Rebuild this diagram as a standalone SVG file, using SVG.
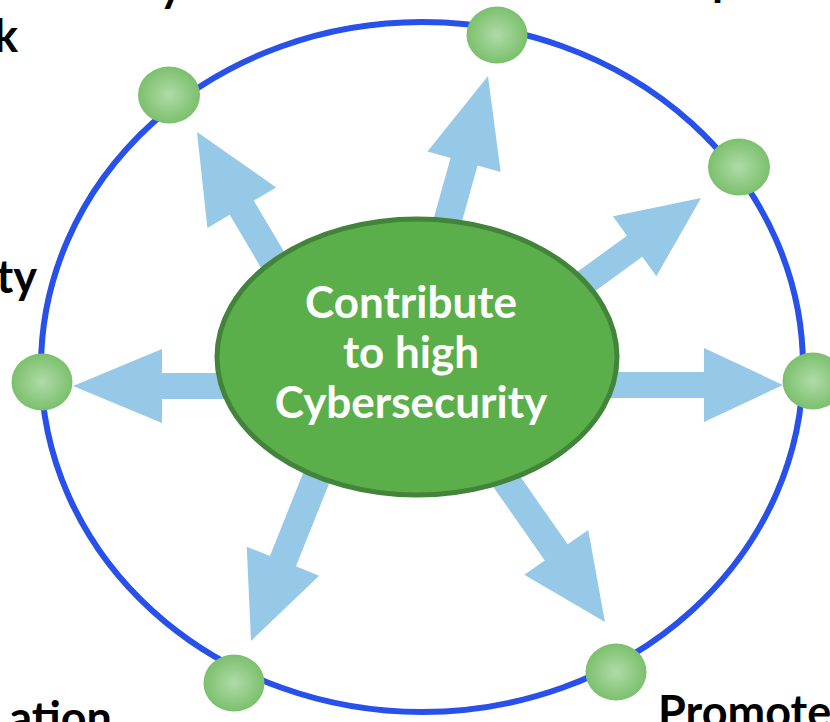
<svg xmlns="http://www.w3.org/2000/svg" width="830" height="722" viewBox="0 0 830 722">
<defs>
<radialGradient id="nodeGrad" cx="50%" cy="50%" r="50%">
<stop offset="0" stop-color="#B0DBA8"/>
<stop offset="1" stop-color="#7BC06D"/>
</radialGradient>
<style>
.ring{fill:none;stroke:#2850EA;stroke-width:6}
.arrow{fill:#96C9E8}
.node{fill:url(#nodeGrad)}
.center{fill:#5BAF4B;stroke:#42843A;stroke-width:5}
.ctext{font-family:Lato,"Open Sans",sans-serif;font-weight:bold;font-size:44px;fill:#FFFFFF;text-anchor:middle}
.label{font-family:Lato,"Open Sans",sans-serif;font-weight:bold;font-size:45px;fill:#000000}
</style>
</defs>
<rect width="830" height="722" fill="#FFFFFF"/>
<g id="ring"><ellipse class="ring" cx="422" cy="367" rx="381" ry="345"/></g>
<g id="connectors">
<path class="arrow" transform="translate(73,386) rotate(180)" d="M-190,-13 L-89,-13 L-89,-37 L0,0 L-89,37 L-89,13 L-190,13 Z"/>
<path class="arrow" transform="translate(783,385)" d="M-205,-13 L-79,-13 L-79,-37 L0,0 L-79,37 L-79,13 L-205,13 Z"/>
<path class="arrow" transform="translate(488,76) rotate(-74.4)" d="M-180,-14 L-89,-14 L-89,-38 L0,0 L-89,38 L-89,14 L-180,14 Z"/>
<path class="arrow" transform="translate(197,132) rotate(-120.6)" d="M-200,-14 L-88,-14 L-88,-40 L0,0 L-88,40 L-88,14 L-200,14 Z"/>
<path class="arrow" transform="translate(701,198) rotate(-36)" d="M-190,-13 L-82,-13 L-82,-37 L0,0 L-82,37 L-82,13 L-190,13 Z"/>
<path class="arrow" transform="translate(251,641) rotate(111.8)" d="M-200,-14 L-86,-14 L-86,-39 L0,0 L-86,39 L-86,14 L-200,14 Z"/>
<path class="arrow" transform="translate(605,622) rotate(55)" d="M-200,-14 L-85,-14 L-85,-39 L0,0 L-85,39 L-85,14 L-200,14 Z"/>
</g>
<g id="center">
<ellipse class="center" cx="417" cy="357" rx="200" ry="138"/>
<text class="ctext" x="411" y="318">Contribute</text>
<text class="ctext" x="411" y="368">to high</text>
<text class="ctext" x="411" y="418">Cybersecurity</text>
</g>
<g id="node-top"><ellipse class="node" cx="497" cy="35" rx="30.5" ry="28.5"/></g>
<g id="node-upper-left"><ellipse class="node" cx="169" cy="95" rx="31" ry="28.5"/></g>
<g id="node-upper-right"><ellipse class="node" cx="739" cy="167" rx="31" ry="28.5"/></g>
<g id="node-left"><ellipse class="node" cx="42" cy="382" rx="30.5" ry="28.5"/></g>
<g id="node-right"><ellipse class="node" cx="813" cy="381" rx="30.5" ry="28.5"/></g>
<g id="node-lower-left"><ellipse class="node" cx="234" cy="683" rx="30.5" ry="28.5"/></g>
<g id="node-lower-right"><ellipse class="node" cx="616" cy="672" rx="30.5" ry="28.5"/></g>
<g id="labels">
<text class="label" x="183" y="1" text-anchor="end">y</text>
<text class="label" x="712" y="-5">p</text>
<text class="label" x="18" y="52" text-anchor="end">k</text>
<text class="label" x="37" y="293" text-anchor="end">ty</text>
<text class="label" x="112" y="734" text-anchor="end">ation</text>
<text class="label" x="658" y="728">Promote</text>
</g>
</svg>
